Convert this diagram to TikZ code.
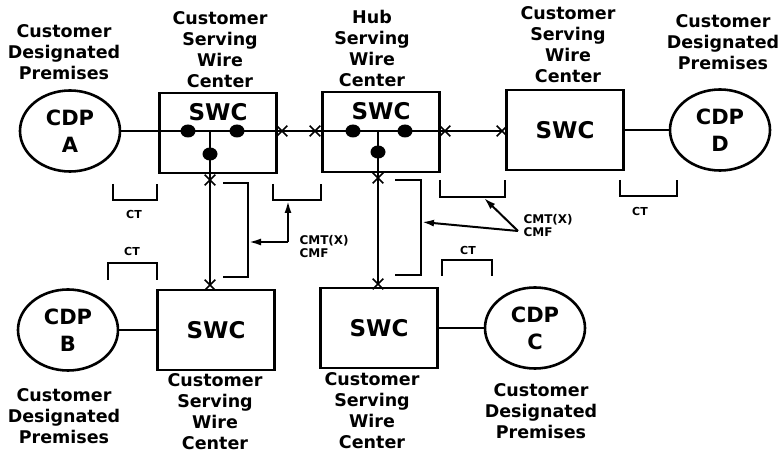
\documentclass[tikz,border=0pt]{standalone}
\usepackage{fontspec}
\setmainfont{DejaVu Sans}
\usetikzlibrary{shapes.geometric,shapes.misc,arrows.meta}

\tikzset{
  wire/.style={line width=2.2pt},
  brk/.style={line width=2.6pt},
  arr/.style={line width=2pt,-{Latex[length=12pt,width=7pt]}},
  cdp/.style={ellipse,draw,line width=2.6pt,minimum width=100pt,minimum height=81pt,
    align=center,font=\fontsize{21}{27}\selectfont\bfseries},
  swc/.style={rectangle,draw,line width=2.6pt,minimum width=117pt,minimum height=80pt,
    font=\fontsize{23}{23}\selectfont\bfseries},
  swctext/.style={font=\fontsize{23}{23}\selectfont\bfseries},
  lbl/.style={align=center,inner sep=1pt,font=\fontsize{17.5}{21}\selectfont\bfseries},
  cttext/.style={font=\fontsize{11}{11}\selectfont\bfseries},
  small/.style={align=left,anchor=west,font=\fontsize{12}{13}\selectfont\bfseries},
  xmark/.style={cross out,draw,line width=1.6pt,minimum size=9pt,inner sep=0pt},
  blob/.style={ellipse,fill,minimum width=15pt,minimum height=13pt,inner sep=0pt}
}

\begin{document}
\begin{tikzpicture}[x=1pt,y=-1pt]
  \useasboundingbox (0,0) rectangle (780,454);

  % customer designated premises
  \node[cdp] (cdpA) at (70,131) {CDP\\A};
  \node[cdp] (cdpB) at (68,330) {CDP\\B};
  \node[cdp] (cdpC) at (535,328) {CDP\\C};
  \node[cdp] (cdpD) at (720,130) {CDP\\D};

  % wire centers
  \node[swc] (swcA) at (218,133) {};
  \node[swctext] (swcAt) at ([yshift=-20pt]swcA.north) {SWC};
  \node[swc] (swcH) at (381,132) {};
  \node[swctext] (swcHt) at ([yshift=-20pt]swcH.north) {SWC};
  \node[swc] (swcD) at (565,130) {SWC};
  \node[swc] (swcB) at (216,330) {SWC};
  \node[swc] (swcC) at (379,328) {SWC};

  % labels
  \node[lbl] (tA) at (64,52) {Customer\\Designated\\Premises};
  \node[lbl] (tSA) at (220,50) {Customer\\Serving\\Wire\\Center};
  \node[lbl] (tH) at (372,48) {Hub\\Serving\\Wire\\Center};
  \node[lbl] (tSD) at (568,45) {Customer\\Serving\\Wire\\Center};
  \node[lbl] (tD) at (723,42) {Customer\\Designated\\Premises};
  \node[lbl] (tB) at (64,416) {Customer\\Designated\\Premises};
  \node[lbl] (tSB) at (215,412) {Customer\\Serving\\Wire\\Center};
  \node[lbl] (tSC) at (372,411) {Customer\\Serving\\Wire\\Center};
  \node[lbl] (tC) at (541,411) {Customer\\Designated\\Premises};

  % bridging points
  \foreach [count=\n] \p in {188,237,353,405} {
    \node[blob] (b\n) at (\p,131) {};
  };
  \node[blob] (b5) at (210,154) {};
  \node[blob] (b6) at (378,152) {};
  \coordinate (jA) at (210,131);
  \coordinate (jH) at (378,131);

  % channel terminations
  \node[xmark] (x1) at (282,131) {};
  \node[xmark] (x2) at (315,131) {};
  \node[xmark] (x3) at (445,131) {};
  \node[xmark] (x4) at (502,131) {};
  \node[xmark] (x5) at (210,180) {};
  \node[xmark] (x6) at (210,285) {};
  \node[xmark] (x7) at (378,178) {};
  \node[xmark] (x8) at (378,284) {};

  % circuit
  \draw[wire] (cdpA) -- (x1.center);
  \draw[wire] (x1.center) -- (x2.center);
  \draw[wire] (x2.center) -- (x3.center);
  \draw[wire] (x3.center) -- (x4.center);
  \draw[wire] (swcD) -- (cdpD);
  \draw[wire] (jA) -- (x5.center);
  \draw[wire] (x5.center) -- (x6.center);
  \draw[wire] (jH) -- (x7.center);
  \draw[wire] (x7.center) -- (x8.center);
  \draw[wire] (cdpB) -- (swcB);
  \draw[wire] (swcC) -- (cdpC);

  % brackets
  \draw[brk] (113,184) |- (157,200) -- (157,184);
  \draw[brk] (273,184) |- (321,200) -- (321,184);
  \draw[brk] (440,180) |- (505,197) -- (505,180);
  \draw[brk] (620,180) |- (677,196) -- (677,180);
  \draw[brk] (108,280) |- (157,263) -- (157,280);
  \draw[brk] (442,276) |- (492,260) -- (492,276);
  \draw[brk] (223,183) -| (248,277) -- (223,277);
  \draw[brk] (395,180) -| (421,275) -- (395,275);

  \node[cttext] (ct1) at (134,214) {CT};
  \node[cttext] (ct2) at (640,211) {CT};
  \node[cttext] (ct3) at (132,251) {CT};
  \node[cttext] (ct4) at (468,250) {CT};

  % CMT and CMF pointers
  \node[small] (cmA) at (296,247) {CMT(X)\\CMF};
  \node[small] (cmH) at (520,226) {CMT(X)\\CMF};
  \coordinate (pA) at (288,242);
  \coordinate (kA) at (288,201);
  \coordinate (vA) at (249,242);
  \coordinate (pH) at (518,231);
  \coordinate (kH) at (484,198);
  \coordinate (vH) at (422,222);
  \draw[arr] (pA) -- (kA);
  \draw[arr] (pA) -- (vA);
  \draw[arr] (pH) -- (kH);
  \draw[arr] (pH) -- (vH);

\end{tikzpicture}
\end{document}
